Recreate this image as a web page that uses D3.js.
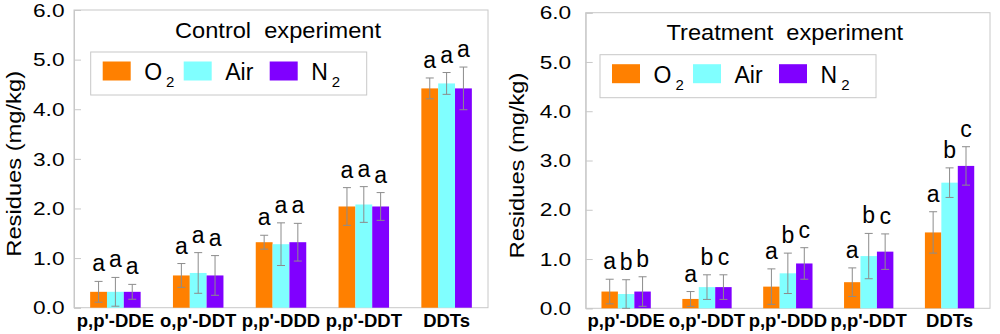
<!DOCTYPE html>
<html>
<head>
<meta charset="utf-8">
<script src="https://cdn.jsdelivr.net/npm/d3@7"></script>
<style>
  body { margin: 0; background: #fff; }
  svg { display: block; font-family: "Liberation Sans", Arial, sans-serif; }
</style>
</head>
<body>
<svg id="chart" width="1000" height="334"></svg>
<script>
// ---- data ----
var categories = ["p,p'-DDE", "o,p'-DDT", "p,p'-DDD", "p,p'-DDT", "DDTs"];
var seriesKeys = ["O2", "Air", "N2"];
var seriesColors = ["#ff8000", "#80ffff", "#8000ff"];
var yTicks = [0, 1, 2, 3, 4, 5, 6];

// control experiment
var controlO2 = [0.32, 0.65, 1.32, 2.04, 4.42];
var controlAir = [0.32, 0.70, 1.28, 2.08, 4.52];
var controlN2 = [0.32, 0.65, 1.32, 2.04, 4.42];
var controlO2Err = [0.21, 0.24, 0.14, 0.38, 0.21];
var controlAirErr = [0.29, 0.41, 0.43, 0.36, 0.22];
var controlN2Err = [0.15, 0.40, 0.38, 0.28, 0.43];
var controlO2Letters = ["a", "a", "a", "a", "a"];
var controlAirLetters = ["a", "a", "a", "a", "a"];
var controlN2Letters = ["a", "a", "a", "a", "a"];

// treatment experiment
var treatO2 = [0.34, 0.19, 0.44, 0.53, 1.54];
var treatAir = [0.29, 0.43, 0.71, 1.06, 2.55];
var treatN2 = [0.34, 0.43, 0.91, 1.15, 2.89];
var treatO2Err = [0.25, 0.15, 0.36, 0.29, 0.42];
var treatAirErr = [0.29, 0.25, 0.41, 0.46, 0.30];
var treatN2Err = [0.30, 0.25, 0.32, 0.36, 0.39];
var treatO2Letters = ["a", "a", "a", "a", "a"];
var treatAirLetters = ["b", "b", "b", "b", "b"];
var treatN2Letters = ["b", "c", "c", "c", "c"];

var svg = d3.select("#chart");
var gridGray = "#c8c8c8";

function buildRows(means, errs, letters) {
    var rows = [];
    categories.forEach(function (c, i) {
        var bars = seriesKeys.map(function (k, j) {
            return { cat: c, key: k, color: seriesColors[j],
                     value: means[j][i], err: errs[j][i], letter: letters[j][i] };
        });
        rows.push({ cat: c, bars: bars });
    });
    return rows;
}

function drawPanel(opt) {
    var g = svg.append("g");

    var x0 = d3.scaleBand().domain(categories).range([opt.left, opt.right]);
    var x1 = d3.scaleBand().domain(seriesKeys).range([0, x0.bandwidth() * 0.61]);
    var y = d3.scaleLinear().domain([0, 6]).range([opt.bottom, opt.top]);

    // frame
    g.append("rect")
        .attr("x", opt.left).attr("y", opt.top)
        .attr("width", opt.right - opt.left).attr("height", opt.bottom - opt.top)
        .attr("fill", "none").attr("stroke", gridGray).attr("stroke-width", 1);

    // y axis (inward ticks)
    var yAxis = g.append("g")
        .attr("transform", "translate(" + opt.left + ",0)")
        .call(d3.axisRight(y).tickValues(yTicks).tickSize(7).tickFormat(""));
    yAxis.select(".domain").attr("stroke", gridGray);
    yAxis.selectAll(".tick line").attr("stroke", gridGray);

    // tick labels, drawn wide like the original
    g.selectAll(".ylab").data(yTicks).enter().append("text")
        .attr("class", "ylab")
        .attr("transform", function (d) {
            return "translate(" + (opt.left - opt.labelGap) + "," + y(d) + ") scale(1.22,1)";
        })
        .attr("dy", "0.36em")
        .attr("text-anchor", "end")
        .attr("font-size", 18.6)
        .attr("fill", "#000")
        .text(function (d) { return d3.format(".1f")(d); });

    // axis title
    g.append("text")
        .attr("transform", "translate(" + (opt.left - opt.titleOffset) + "," + ((opt.top + opt.bottom) / 2 + 5) + ") rotate(-90) scale(1.13,1)")
        .attr("text-anchor", "middle")
        .attr("font-size", 21)
        .attr("fill", "#000")
        .text("Residues (mg/kg)");

    // category labels
    g.selectAll(".xlab").data(categories).enter().append("text")
        .attr("x", function (d) { return x0(d) + x0.bandwidth() / 2; })
        .attr("y", 326.5)
        .attr("text-anchor", "middle")
        .attr("font-size", 18.5)
        .attr("font-weight", "bold")
        .attr("fill", "#000")
        .text(function (d) { return d; });

    var rows = buildRows(opt.means, opt.errs, opt.letters);
    var groupOffset = (x0.bandwidth() - x1.range()[1]) / 2;

    var grp = g.selectAll(".grp").data(rows).enter().append("g")
        .attr("transform", function (d) { return "translate(" + (x0(d.cat) + groupOffset) + ",0)"; });

    var bar = grp.selectAll(".bar").data(function (d) { return d.bars; }).enter().append("g");

    bar.append("rect")
        .attr("x", function (d) { return x1(d.key); })
        .attr("y", function (d) { return y(d.value); })
        .attr("width", x1.bandwidth())
        .attr("height", function (d) { return y(0) - y(d.value); })
        .attr("fill", function (d) { return d.color; });

    var cx = function (d) { return x1(d.key) + x1.bandwidth() / 2; };
    var errColor = "#8c8c8c";
    bar.append("line")
        .attr("x1", cx).attr("x2", cx)
        .attr("y1", function (d) { return y(d.value + d.err); })
        .attr("y2", function (d) { return y(d.value - d.err); })
        .attr("stroke", errColor).attr("stroke-width", 1);
    bar.append("line")
        .attr("x1", function (d) { return cx(d) - 4; }).attr("x2", function (d) { return cx(d) + 4; })
        .attr("y1", function (d) { return y(d.value + d.err); })
        .attr("y2", function (d) { return y(d.value + d.err); })
        .attr("stroke", errColor).attr("stroke-width", 1);
    bar.append("line")
        .attr("x1", function (d) { return cx(d) - 4; }).attr("x2", function (d) { return cx(d) + 4; })
        .attr("y1", function (d) { return y(d.value - d.err); })
        .attr("y2", function (d) { return y(d.value - d.err); })
        .attr("stroke", errColor).attr("stroke-width", 1);

    // significance letters
    bar.append("text")
        .attr("x", cx)
        .attr("y", function (d) { return y(d.value + d.err) - 10; })
        .attr("text-anchor", "middle")
        .attr("font-size", 23)
        .attr("fill", "#000")
        .text(function (d) { return d.letter; });

    // panel title
    g.append("text")
        .attr("transform", "translate(" + ((opt.left + opt.right) / 2 - 3) + "," + (opt.top + 27.5) + ") scale(1.05,1)")
        .attr("text-anchor", "middle")
        .attr("font-size", 22.5)
        .attr("fill", "#000")
        .style("white-space", "pre")
        .text(opt.title);

    // legend
    var lx = opt.left + opt.legendDx, ly = opt.top + 42;
    var lg = g.append("g").attr("transform", "translate(" + lx + "," + ly + ")");
    lg.append("rect")
        .attr("width", 276).attr("height", 43)
        .attr("fill", "#fff").attr("stroke", gridGray).attr("stroke-width", 1);
    var itemX = [12, 93, 179];
    var labels = [["O", "2"], ["Air", ""], ["N", "2"]];
    seriesKeys.forEach(function (k, i) {
        var it = lg.append("g").attr("transform", "translate(" + itemX[i] + ",0)");
        it.append("rect")
            .attr("y", 9.5).attr("width", 28).attr("height", 19)
            .attr("fill", seriesColors[i]);
        var t = it.append("text")
            .attr("x", 41.5).attr("y", 28)
            .attr("font-size", 23)
            .attr("fill", "#000");
        t.append("tspan").text(labels[i][0]);
        if (labels[i][1]) {
            t.append("tspan")
                .attr("dx", 4).attr("dy", 7)
                .attr("font-size", 15)
                .text(labels[i][1]);
        }
    });
}

drawPanel({
    left: 74, right: 488, top: 10, bottom: 307.7,
    labelGap: 9.5, titleOffset: 53, legendDx: 16.7,
    title: "Control  experiment",
    means: [controlO2, controlAir, controlN2],
    errs: [controlO2Err, controlAirErr, controlN2Err],
    letters: [controlO2Letters, controlAirLetters, controlN2Letters]
});

drawPanel({
    left: 585.7, right: 990, top: 12.7, bottom: 308.3,
    labelGap: 14.5, titleOffset: 62, legendDx: 14.3,
    title: "Treatment  experiment",
    means: [treatO2, treatAir, treatN2],
    errs: [treatO2Err, treatAirErr, treatN2Err],
    letters: [treatO2Letters, treatAirLetters, treatN2Letters]
});
</script>
</body>
</html>
